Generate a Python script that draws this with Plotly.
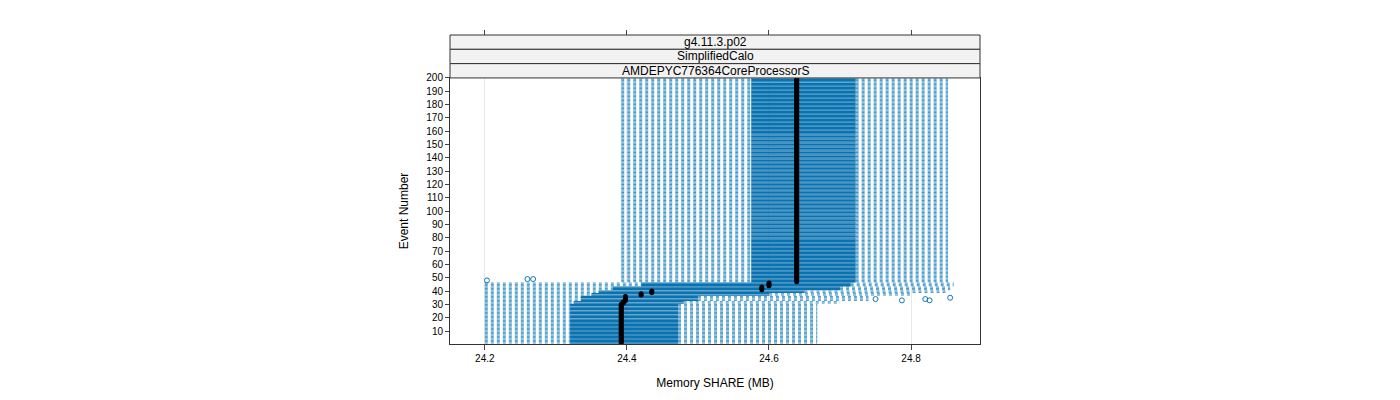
import plotly.graph_objects as go

# segments of events: (first event, last event, low whisker, q1, median, q3, high whisker)
seg_first = [1, 31, 33, 37, 39, 41, 44, 47]
seg_last = [30, 32, 36, 38, 40, 43, 46, 200]
seg_low = [24.200, 24.200, 24.200, 24.200, 24.200, 24.200, 24.200, 24.392]
seg_q1 = [24.320, 24.325, 24.335, 24.350, 24.360, 24.380, 24.420, 24.575]
seg_med = [24.392, 24.395, 24.398, 24.420, 24.435, 24.590, 24.600, 24.639]
seg_q3 = [24.472, 24.480, 24.500, 24.600, 24.650, 24.700, 24.715, 24.722]
seg_high = [24.668, 24.700, 24.740, 24.800, 24.850, 24.855, 24.860, 24.852]

out_x = [24.203, 24.26, 24.268, 24.75, 24.787, 24.82, 24.826, 24.855]
out_y = [48, 49, 49, 34, 33, 34, 33, 35]

events, low, q1, med, q3, high = [], [], [], [], [], []
for i in range(len(seg_first)):
    for e in range(seg_first[i], seg_last[i] + 1):
        events.append(e)
        low.append(seg_low[i]); q1.append(seg_q1[i]); med.append(seg_med[i])
        q3.append(seg_q3[i]); high.append(seg_high[i])

wx, wy, bx, by = [], [], [], []
for e, a, b, m, c, d in zip(events, low, q1, med, q3, high):
    wx += [a, b, None, c, d, None]
    wy += [e, e, None, e, e, None]
    bx += [b, c, None]
    by += [e, e, None]

fig = go.Figure()
fig.add_trace(go.Scatter(x=wx, y=wy, mode="lines", line=dict(color="#3e94c8", width=1, dash="dot"), showlegend=False))
fig.add_trace(go.Scatter(x=bx, y=by, mode="lines", line=dict(color="#0b72b0", width=1.3), showlegend=False))
fig.add_trace(go.Scatter(x=med, y=events, mode="markers", marker=dict(color="black", size=5), showlegend=False))
fig.add_trace(go.Scatter(x=out_x, y=out_y, mode="markers",
                         marker=dict(symbol="circle-open", color="#1177b5", size=5), showlegend=False))
fig.add_trace(go.Scatter(x=[24.2, 24.8], y=[None, None], xaxis="x2", showlegend=False))

strips = ["g4.11.3.p02", "SimplifiedCalo", "AMDEPYC776364CoreProcessorS"]
ytop = 0.861
h = (1 - ytop) / 3
for i, s in enumerate(strips):
    y0 = 1 - (i + 1) * h
    fig.add_shape(type="rect", xref="paper", yref="paper", x0=0, x1=1, y0=y0, y1=y0 + h,
                  fillcolor="#f2f2f2", line=dict(color="#333", width=1))
    fig.add_annotation(text=s, xref="paper", yref="paper", x=0.5, y=y0 + h / 2,
                       xanchor="center", yanchor="middle",
                       showarrow=False, font=dict(size=12, color="black"))

fig.update_layout(
    width=1400, height=400, plot_bgcolor="white", paper_bgcolor="white",
    margin=dict(l=442, r=428, t=27, b=64),
    font=dict(family="Liberation Sans, Arial", color="black"),
    xaxis=dict(range=[24.151, 24.897], tickvals=[24.2, 24.4, 24.6, 24.8], tickfont=dict(size=10),
               ticks="outside", ticklen=5, showgrid=True, gridcolor="#e8e8e8", zeroline=False,
               showline=True, linecolor="#333", mirror=True,
               title=dict(text="Memory SHARE (MB)", font=dict(size=12))),
    xaxis2=dict(overlaying="x", matches="x", side="top", anchor="free", position=1,
                tickvals=[24.2, 24.4, 24.6, 24.8], showticklabels=False, ticks="outside",
                ticklen=5, showgrid=False, zeroline=False),
    yaxis=dict(range=[0.25, 200], domain=[0, ytop], tickvals=list(range(10, 201, 10)),
               tickfont=dict(size=10), ticks="outside", ticklen=4, showgrid=False, zeroline=False,
               showline=True, linecolor="#333", mirror=True,
               title=dict(text="Event Number", font=dict(size=12))),
)
fig.write_html("out.html")
